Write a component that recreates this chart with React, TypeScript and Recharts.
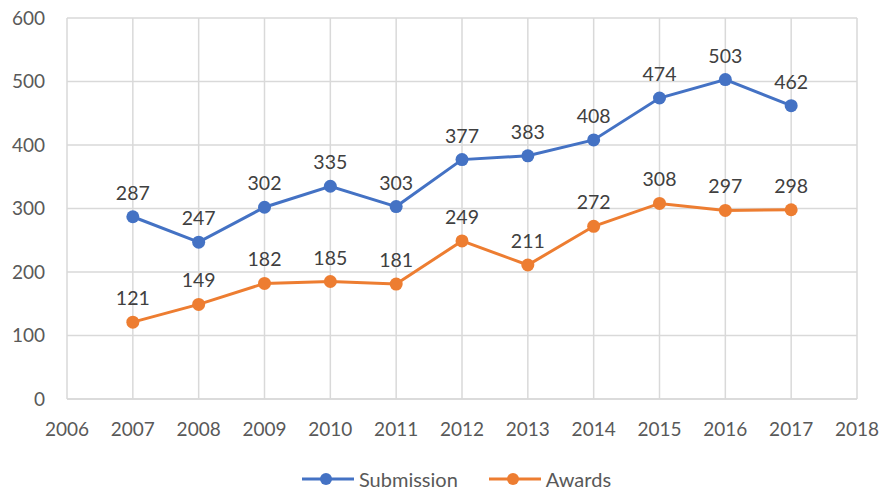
import React from "react";
import { LineChart, Line, XAxis, YAxis, CartesianGrid, LabelList, Legend } from "recharts";

const years = [2007, 2008, 2009, 2010, 2011, 2012, 2013, 2014, 2015, 2016, 2017];
const submission = [287, 247, 302, 335, 303, 377, 383, 408, 474, 503, 462];
const awards = [121, 149, 182, 185, 181, 249, 211, 272, 308, 297, 298];
const xTicks = [2006, 2007, 2008, 2009, 2010, 2011, 2012, 2013, 2014, 2015, 2016, 2017, 2018];
const yTicks = [0, 100, 200, 300, 400, 500, 600];

const BLUE = "#4472C4";
const ORANGE = "#ED7D31";
const TEXT = "#595959";
const GRID = "#d9d9d9";
const FONT = "Lato, 'Open Sans', sans-serif";

const data = years.map((y, i) => ({ year: y, submission: submission[i], awards: awards[i] }));

function LegendContent() {
  const item = (color: string, label: string, gap: number) => (
    <div style={{ display: "flex", alignItems: "center", marginRight: gap }}>
      <svg width={52} height={16}>
        <line x1={0} y1={8} x2={52} y2={8} stroke={color} strokeWidth={3} />
        <circle cx={24} cy={8} r={6} fill={color} />
      </svg>
      <span style={{ marginLeft: 5, color: TEXT, fontSize: 20, fontFamily: FONT, lineHeight: "24px" }}>{label}</span>
    </div>
  );
  return (
    <div style={{ display: "flex", justifyContent: "center", paddingLeft: 56, height: 24 }}>
      {item(BLUE, "Submission", 31)}
      {item(ORANGE, "Awards", 0)}
    </div>
  );
}

export default function App() {
  return (
    <div style={{ position: "absolute", left: 0, top: 0, background: "#fff" }}>
      <LineChart width={883} height={491} data={data} margin={{ top: 18, right: 26, left: 0, bottom: 0 }}>
        <CartesianGrid stroke={GRID} strokeWidth={1.5} />
        <XAxis
          dataKey="year"
          type="number"
          domain={[2006, 2018]}
          ticks={xTicks}
          stroke={GRID}
          strokeWidth={1.5}
          tickLine={false}
          tickSize={0}
          tickMargin={24}
          height={68}
          tick={{ fill: TEXT, fontSize: 19, fontFamily: FONT }}
        />
        <YAxis
          domain={[0, 600]}
          ticks={yTicks}
          axisLine={false}
          tickLine={false}
          tickSize={0}
          tickMargin={22}
          width={67}
          tick={{ fill: TEXT, fontSize: 19, fontFamily: FONT }}
        />
        <Legend verticalAlign="bottom" height={24} content={<LegendContent />} />
        <Line
          dataKey="submission"
          stroke={BLUE}
          strokeWidth={3}
          dot={{ r: 6.5, fill: BLUE, stroke: BLUE, strokeWidth: 0 }}
          isAnimationActive={false}
        >
          <LabelList dataKey="submission" position="top" offset={17} fill="#404040" fontSize={19.5} fontFamily={FONT} />
        </Line>
        <Line
          dataKey="awards"
          stroke={ORANGE}
          strokeWidth={3}
          dot={{ r: 6.5, fill: ORANGE, stroke: ORANGE, strokeWidth: 0 }}
          isAnimationActive={false}
        >
          <LabelList dataKey="awards" position="top" offset={17} fill="#404040" fontSize={19.5} fontFamily={FONT} />
        </Line>
      </LineChart>
    </div>
  );
}
